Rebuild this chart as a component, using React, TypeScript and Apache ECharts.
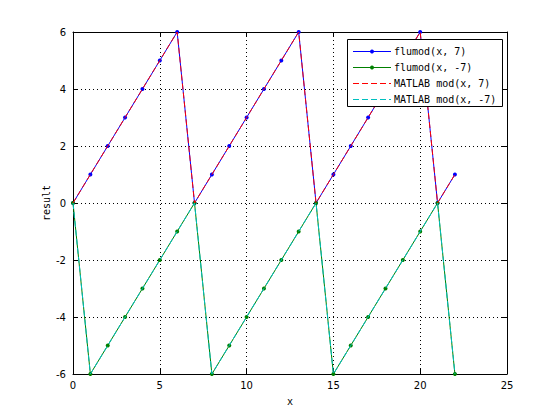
import React, { useEffect, useRef } from "react";
import * as echarts from "echarts";

const xValues = [0, 1, 2, 3, 4, 5, 6, 7, 8, 9, 10, 11, 12, 13, 14, 15, 16, 17, 18, 19, 20, 21, 22];
const flumodPos = [0, 1, 2, 3, 4, 5, 6, 0, 1, 2, 3, 4, 5, 6, 0, 1, 2, 3, 4, 5, 6, 0, 1];
const flumodNeg = [0, -6, -5, -4, -3, -2, -1, 0, -6, -5, -4, -3, -2, -1, 0, -6, -5, -4, -3, -2, -1, 0, -6];
const matlabPos = [0, 1, 2, 3, 4, 5, 6, 0, 1, 2, 3, 4, 5, 6, 0, 1, 2, 3, 4, 5, 6, 0, 1];
const matlabNeg = [0, -6, -5, -4, -3, -2, -1, 0, -6, -5, -4, -3, -2, -1, 0, -6, -5, -4, -3, -2, -1, 0, -6];
const seriesNames = ["flumod(x, 7)", "flumod(x, -7)", "MATLAB mod(x, 7)", "MATLAB mod(x, -7)"];
const seriesColors = ["#0000ff", "#008000", "#ff0000", "#00bfbf"];
const seriesDashed = [false, false, true, true];
const seriesMarker = [true, true, false, false];

const pairs = (ys: number[]) => xValues.map((x, i) => [x, ys[i]]);

const FONT = "DejaVu Sans Mono";
const TICK_FONT = "DejaVu Sans";
const DASH = [6, 3];

function legendGraphic() {
  const boxX = 347;
  const boxY = 39;
  const Z = 100;
  const els: any[] = [
    {
      type: "rect",
      z: Z,
      zlevel: 1,
      shape: { x: boxX + 0.5, y: boxY + 0.5, width: 155, height: 67 },
      style: { fill: "#ffffff", stroke: "#000000", lineWidth: 1 },
    },
  ];
  seriesNames.forEach((name, i) => {
    const y = boxY + 12.5 + i * 16;
    els.push({
      type: "line",
      z: Z + 1,
      zlevel: 1,
      shape: { x1: boxX + 6, y1: y, x2: boxX + 44, y2: y },
      style: seriesDashed[i]
        ? { stroke: seriesColors[i], lineWidth: 1, lineDash: DASH }
        : { stroke: seriesColors[i], lineWidth: 1 },
    });
    if (seriesMarker[i]) {
      els.push({
        type: "circle",
        z: Z + 2,
        zlevel: 1,
        shape: { cx: boxX + 25, cy: y, r: 2 },
        style: { fill: seriesColors[i] },
      });
    }
    els.push({
      type: "text",
      z: Z + 2,
      zlevel: 1,
      x: boxX + 47,
      y,
      style: {
        text: name,
        fontFamily: FONT,
        fontSize: 10,
        fill: "#000",
        verticalAlign: "middle",
        align: "left",
      },
    });
  });
  return els;
}

export default function App() {
  const ref = useRef<HTMLDivElement>(null);
  useEffect(() => {
    if (!ref.current) return;
    document.body.style.margin = "0";
    const chart = echarts.init(ref.current, null, { renderer: "svg" });
    const axisLine = { show: true, onZero: false, lineStyle: { color: "#000", width: 1 } };
    const axisTick = { show: true, inside: true, length: 5, lineStyle: { color: "#000" } };
    const splitLine = { show: true, lineStyle: { color: "#000", type: [1, 3], width: 1 } };
    chart.setOption({
      animation: false,
      backgroundColor: "#fff",
      grid: { left: 73, right: 53, top: 32, bottom: 46, containLabel: false },
      graphic: legendGraphic(),
      xAxis: [
        {
          type: "value",
          min: 0,
          max: 25,
          interval: 5,
          name: "x",
          nameLocation: "middle",
          nameGap: 22,
          nameTextStyle: { fontFamily: FONT, fontSize: 10, color: "#000" },
          axisLine,
          axisTick,
          splitLine,
          axisLabel: { fontFamily: TICK_FONT, fontSize: 10, color: "#000", margin: 6 },
        },
        {
          type: "value",
          position: "top",
          min: 0,
          max: 25,
          interval: 5,
          axisLine,
          axisTick,
          splitLine: { show: false },
          axisLabel: { show: false },
        },
      ],
      yAxis: [
        {
          type: "value",
          min: -6,
          max: 6,
          interval: 2,
          name: "result",
          nameLocation: "middle",
          nameGap: 22,
          nameMoveOverlap: false,
          nameRotate: 90,
          nameTextStyle: { fontFamily: FONT, fontSize: 10, color: "#000" },
          axisLine,
          axisTick,
          splitLine,
          axisLabel: { fontFamily: TICK_FONT, fontSize: 10, color: "#000", margin: 7 },
        },
        {
          type: "value",
          position: "right",
          min: -6,
          max: 6,
          interval: 2,
          axisLine,
          axisTick,
          splitLine: { show: false },
          axisLabel: { show: false },
        },
      ],
      series: [
        {
          name: seriesNames[0],
          type: "line",
          data: pairs(flumodPos),
          symbol: "circle",
          symbolSize: 4,
          color: seriesColors[0],
          lineStyle: { color: seriesColors[0], width: 1 },
          itemStyle: { color: seriesColors[0] },
          clip: false,
          z: 2,
        },
        {
          name: seriesNames[1],
          type: "line",
          data: pairs(flumodNeg),
          symbol: "circle",
          symbolSize: 4,
          color: seriesColors[1],
          lineStyle: { color: seriesColors[1], width: 1 },
          itemStyle: { color: seriesColors[1] },
          clip: false,
          z: 2,
        },
        {
          name: seriesNames[2],
          type: "line",
          data: pairs(matlabPos),
          symbol: "none",
          color: seriesColors[2],
          lineStyle: { color: seriesColors[2], width: 1, type: DASH },
          clip: false,
          z: 3,
        },
        {
          name: seriesNames[3],
          type: "line",
          data: pairs(matlabNeg),
          symbol: "none",
          color: seriesColors[3],
          lineStyle: { color: seriesColors[3], width: 1, type: DASH },
          clip: false,
          z: 3,
        },
      ],
    });
    return () => chart.dispose();
  }, []);
  return <div ref={ref} style={{ width: 560, height: 420 }} />;
}
